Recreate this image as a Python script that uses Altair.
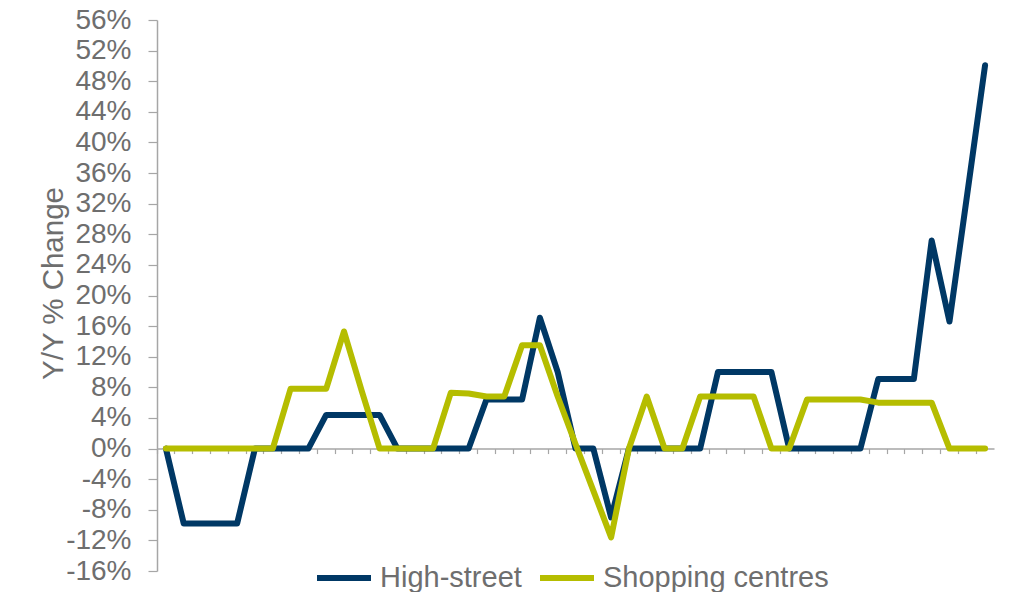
import altair as alt
import pandas as pd

# ---- data ----
periods = list(range(1, 48))
series_names = ["High-street", "Shopping centres"]
high_street = [0, -9.8, -9.8, -9.8, -9.8, 0, 0, 0, 0, 4.4, 4.4, 4.4, 4.4, 0, 0, 0,
               0, 0, 6.4, 6.4, 6.4, 17.1, 10.0, 0, 0, -9.0, 0, 0, 0, 0, 0, 10.0,
               10.0, 10.0, 10.0, 0, 0, 0, 0, 0, 9.1, 9.1, 9.1, 27.2, 16.6, 33.3, 50.1]
shopping_centres = [0, 0, 0, 0, 0, 0, 0, 7.8, 7.8, 7.8, 15.3, 7.5, 0, 0, 0, 0,
                    7.3, 7.2, 6.8, 6.8, 13.5, 13.5, 6.8, 0.6, -5.5, -11.6, 0, 6.8, 0, 0, 6.8, 6.8,
                    6.8, 6.8, 0, 0, 6.4, 6.4, 6.4, 6.4, 6.0, 6.0, 6.0, 6.0, 0, 0, 0]
y_ticks = list(range(-16, 60, 4))
y_min, y_max = -16, 56

rows = []
for name, vals in zip(series_names, [high_street, shopping_centres]):
    for p, v in zip(periods, vals):
        rows.append({"period": p, "series": name, "value": v})
df = pd.DataFrame(rows)

W, H = 837, 551
zero_offset = -H * (0 - y_min) / (y_max - y_min)

FONT = "Liberation Sans"
TEXT = "#6e6e6e"
AXIS = "#a6a6a6"
NAVY = "#003865"
LIME = "#b5bd00"

chart = alt.Chart(df).mark_line(
    strokeWidth=6, strokeCap="round", strokeJoin="round"
).encode(
    x=alt.X(
        "period:O",
        scale=alt.Scale(type="band", paddingInner=0, paddingOuter=0),
        axis=alt.Axis(title=None, labels=False, offset=zero_offset, bandPosition=0,
                      tickSize=5, domainColor=AXIS, tickColor=AXIS, domainWidth=1.5,
                      tickWidth=1.2, grid=False),
    ),
    y=alt.Y(
        "value:Q",
        scale=alt.Scale(domain=[y_min, y_max], nice=False, zero=False),
        axis=alt.Axis(values=y_ticks, labelExpr="datum.value + '%'", title="Y/Y % Change",
                      grid=False, tickSize=9, labelPadding=17, labelFont=FONT,
                      labelFontSize=28, labelColor=TEXT, titleFont=FONT, titleFontSize=29.5,
                      titleFontWeight="normal", titleColor=TEXT, titleX=-95, titleY=263,
                      titleAngle=270, titleAlign="center", titleBaseline="alphabetic",
                      domainColor=AXIS, tickColor=AXIS, domainWidth=1.5, tickWidth=1.2),
    ),
    color=alt.Color(
        "series:N",
        scale=alt.Scale(domain=series_names, range=[NAVY, LIME]),
        legend=alt.Legend(title=None, orient="none", legendX=157, legendY=528,
                          direction="horizontal", symbolType="stroke", symbolSize=2916,
                          symbolStrokeWidth=6, labelFont=FONT, labelFontSize=29,
                          labelColor=TEXT, labelOffset=6, columnPadding=6, padding=0,
                          labelLimit=500),
    ),
    order=alt.Order("period:O"),
).properties(
    width=W, height=H,
    padding={"left": 149, "top": 12, "right": 10, "bottom": 25},
    autosize=alt.AutoSizeParams(type="none"),
).configure_view(stroke=None)

chart.save("out.html", embed_options={"renderer": "svg", "actions": False})
